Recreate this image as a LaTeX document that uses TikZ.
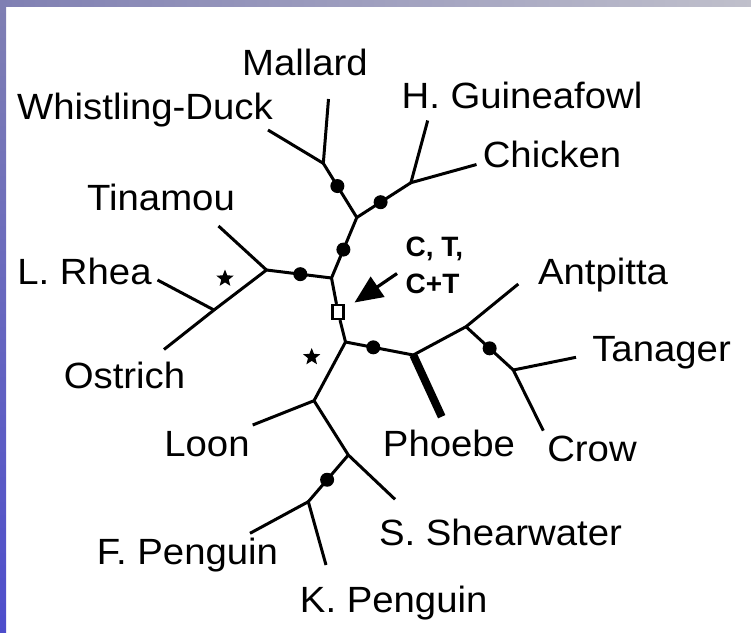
\documentclass[tikz,border=0pt]{standalone}
\usepackage{fontspec}
\setmainfont{Liberation Sans}
\usetikzlibrary{arrows.meta,shapes.geometric}

\tikzset{
  branch/.style={line width=3pt},
  dot/.style={circle, fill, inner sep=0pt, minimum size=14pt},
  taxon/.style={anchor=base, inner sep=0pt, xscale=1.05, font=\fontsize{36.5}{40}\selectfont},
  clade/.style={star, star points=5, star point ratio=2.3, fill, inner sep=0pt, minimum size=18pt},
}

\begin{document}
\begin{tikzpicture}[x=1pt, y=-1pt]
    \useasboundingbox (0,0) rectangle (751,632);

    % Frame
    \shade[left color=blue!25!gray!80, right color=blue!10!gray!45] (0,0) rectangle (751,6);
    \shade[top color=blue!25!gray!80, bottom color=blue!55!gray!90] (0,0) rectangle (6,632);

    % Root
    \node[draw, line width=2.2pt, fill=white, inner sep=0pt, minimum width=11pt, minimum height=14pt] (root) at (338,312) {};
    \coordinate (up) at (331.5,278);
    \coordinate (down) at (345.5,342);

    % Ratites and tinamou
    \coordinate (pal) at (266.5,270);
    \coordinate (rat) at (214,310);
    \coordinate (ti) at (218.5,226);
    \coordinate (rh) at (157.5,280);
    \coordinate (os) at (164,349.5);

    % Ducks and fowl
    \coordinate (gal) at (356.8,217.5);
    \coordinate (anat) at (323.3,163.3);
    \coordinate (wd) at (268,130);
    \coordinate (ma) at (328.5,99);
    \coordinate (phas) at (410.9,182.7);
    \coordinate (gf) at (427.7,120.5);
    \coordinate (ch) at (476.5,164.5);

    % Passerines
    \coordinate (pass) at (413.3,355);
    \coordinate (ph) at (441.7,416.7);
    \coordinate (osc) at (466,326.7);
    \coordinate (ap) at (518.3,284);
    \coordinate (corv) at (513.3,370);
    \coordinate (ta) at (576,357.3);
    \coordinate (cr) at (543.3,430.7);

    % Waterbirds
    \coordinate (wat) at (314,400.7);
    \coordinate (lo) at (252.7,425);
    \coordinate (proc) at (348.3,455);
    \coordinate (sh) at (395,499.3);
    \coordinate (sph) at (308.3,501.7);
    \coordinate (fp) at (250,533.3);
    \coordinate (kp) at (326,565);

    % Branches
    \draw[branch] (root) -- (up);
    \draw[branch] (root) -- (down);
    \draw[branch] (up) -- (pal) node[dot, pos=0.48] {};
    \draw[branch] (ti) -- (pal) -- (rat) -- (os);
    \draw[branch] (rh) -- (rat);
    \draw[branch] (up) -- (gal) node[dot, pos=0.47] {};
    \draw[branch] (gal) -- (anat) node[dot, pos=0.58] {};
    \draw[branch] (wd) -- (anat) -- (ma);
    \draw[branch] (gal) -- (phas) node[dot, pos=0.44] {};
    \draw[branch] (gf) -- (phas) -- (ch);
    \draw[branch] (down) -- (pass) node[dot, pos=0.41] {};
    \draw[line width=8pt] (pass) -- (ph);
    \draw[branch] (pass) -- (osc) -- (ap);
    \draw[branch] (osc) -- (corv) node[dot, pos=0.5] {};
    \draw[branch] (ta) -- (corv) -- (cr);
    \draw[branch] (down) -- (wat) -- (lo);
    \draw[branch] (wat) -- (proc) -- (sh);
    \draw[branch] (proc) -- (sph) node[dot, pos=0.53] {};
    \draw[branch] (fp) -- (sph) -- (kp);

    % Stars
    \node[clade] (star1) at (225,278.5) {};
    \node[clade] (star2) at (311.7,357) {};

    % Arrow and note
    \node[anchor=north west, inner sep=0pt, align=left, font=\fontsize{28}{36.5}\selectfont\bfseries] (note) at (405.5,237) {C, T,\\C+T};
    \coordinate (tail) at (397,273.5);
    \coordinate (tip) at (354.5,302.5);
    \draw[line width=3.2pt, -{Triangle[length=28pt, width=24pt]}] (tail) -- (tip);

    % Labels
    \node[taxon] (mallard) at (305,75) {Mallard};
    \node[taxon] (whistling) at (145,119) {Whistling-Duck};
    \node[taxon] (guineafowl) at (522,108.5) {H. Guineafowl};
    \node[taxon] (chicken) at (552,167) {Chicken};
    \node[taxon] (tinamou) at (161,210.5) {Tinamou};
    \node[taxon] (rhea) at (84.5,284) {L. Rhea};
    \node[taxon] (ostrich) at (124.5,388.5) {Ostrich};
    \node[taxon] (antpitta) at (603,284) {Antpitta};
    \node[taxon] (tanager) at (661.5,361) {Tanager};
    \node[taxon] (phoebe) at (449,456) {Phoebe};
    \node[taxon] (crow) at (592,461) {Crow};
    \node[taxon] (loon) at (207,456) {Loon};
    \node[taxon] (shearwater) at (500.5,545.5) {S. Shearwater};
    \node[taxon] (fpenguin) at (187.5,564) {F. Penguin};
    \node[taxon] (kpenguin) at (393.7,612) {K. Penguin};
\end{tikzpicture}
\end{document}
